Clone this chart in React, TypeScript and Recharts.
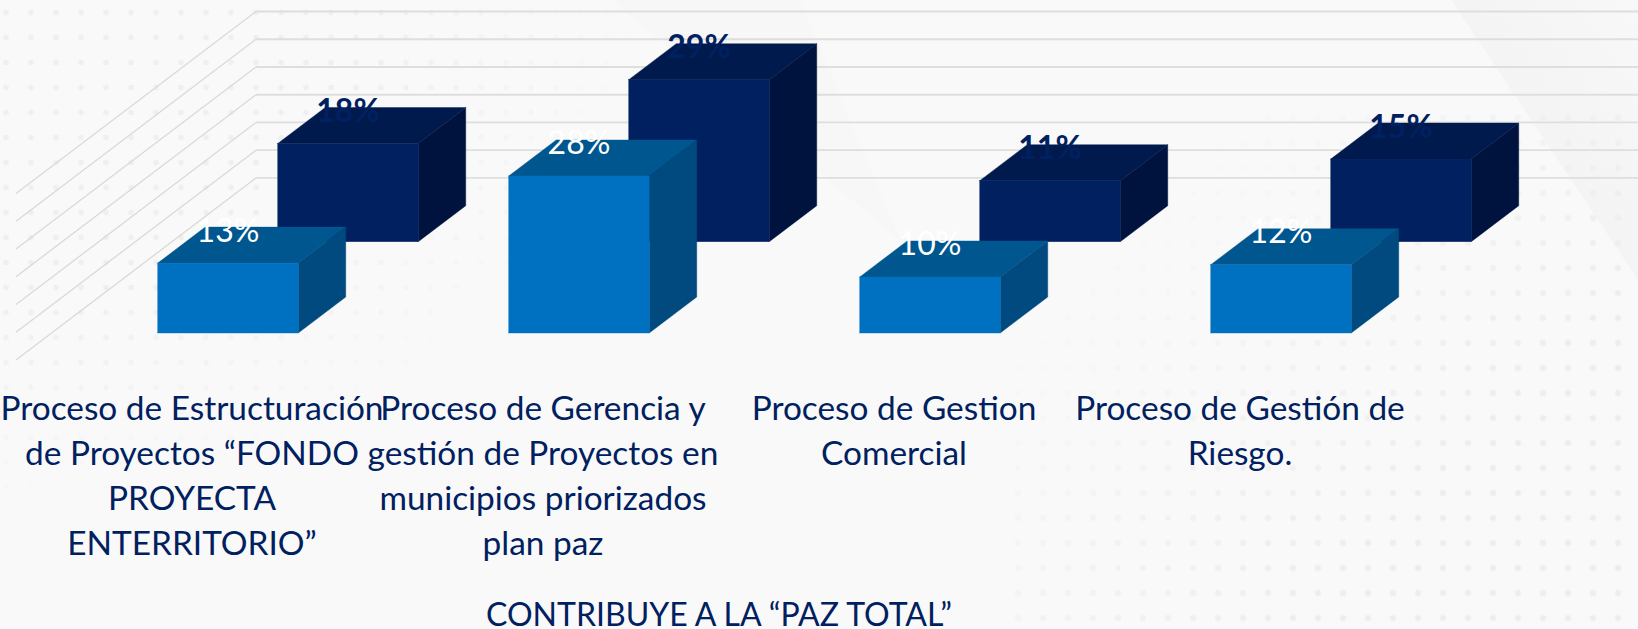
import { BarChart, Bar, XAxis, YAxis, CartesianGrid, LabelList } from 'recharts'

const categories = ['Estructuración', 'Gerencia', 'Gestion Comercial', 'Gestión de Riesgo']
const tickLines = [
  ['Proceso de Estructuración', 'de Proyectos “FONDO', 'PROYECTA', 'ENTERRITORIO”'],
  ['Proceso de Gerencia y', 'gestión de Proyectos en', 'municipios priorizados', 'plan paz'],
  ['Proceso de Gestion', 'Comercial'],
  ['Proceso de Gestión de', 'Riesgo.'],
]
const frontValues = [12.6, 28.3, 10.1, 12.3]
const backValues = [17.7, 29.2, 11, 14.9]
const gridValues = [5, 10, 15, 20, 25, 30, 35]
const caption = 'CONTRIBUYE A LA “PAZ TOTAL”'

const chartData = categories.map((name, i) => ({
  name,
  front: frontValues[i],
  back: backValues[i],
}))

const FONT = 'Lato, Carlito, sans-serif'
const NAVY = '#002060'

// projection of each row away from the back wall, plus the box depth
const DEPTH_X = 47.5
const DEPTH_Y = 36
const FRONT_ROW = { dx: 36.25, dy: 127.3, face: '#0070C0', top: '#00578F', side: '#004A7F' }
const BACK_ROW = { dx: 156.25, dy: 36, face: '#002060', top: '#001A4D', side: '#00133F' }

type Row = typeof FRONT_ROW

const makeBox = (row: Row) => (props: any) => {
  const x = props.x + row.dx
  const y = props.y + row.dy
  const { width: w, height: h } = props
  return (
    <g>
      <polygon
        points={`${x},${y} ${x + DEPTH_X},${y - DEPTH_Y} ${x + w + DEPTH_X},${y - DEPTH_Y} ${x + w},${y}`}
        fill={row.top}
        stroke={row.top}
        strokeWidth={0.4}
      />
      <polygon
        points={`${x + w},${y} ${x + w + DEPTH_X},${y - DEPTH_Y} ${x + w + DEPTH_X},${y + h - DEPTH_Y} ${x + w},${y + h}`}
        fill={row.side}
        stroke={row.side}
        strokeWidth={0.4}
      />
      <rect x={x} y={y} width={w} height={h} fill={row.face} stroke={row.face} strokeWidth={0.4} />
    </g>
  )
}

const makeValueLabel = (row: Row, color: string, weight: number) => (props: any) => {
  const { x, y, width, value } = props
  return (
    <text
      x={x + row.dx + width / 2}
      y={y + row.dy - 21.5}
      textAnchor="middle"
      fill={color}
      fontFamily={FONT}
      fontWeight={weight}
      fontSize={32}
    >
      {Math.round(value)}%
    </text>
  )
}

const CategoryTick = (props: any) => {
  const lines = tickLines[props.index] ?? []
  // last label sits a little left of its band in the original
  const x = props.index === 3 ? props.x - 5 : props.x
  return (
    <text x={x} y={props.y + 206} textAnchor="middle" fill={NAVY} fontFamily={FONT} fontSize={33.4}>
      {lines.map((line, i) => (
        <tspan key={line} x={x} dy={i === 0 ? 0 : 45.2}>
          {line}
        </tspan>
      ))}
    </text>
  )
}

// wall line: runs flat along the back, then folds down the left side
const WallLine = (props: any) => (
  <g key={props.y1}>
    <path d={`M16,${props.y1 + 182} L256,${props.y1}`} fill="none" stroke="#d9d9d9" strokeWidth={1.3} />
    <path d={`M256,${props.y1} L1638,${props.y1}`} fill="none" stroke="#dedede" strokeWidth={1.8} />
  </g>
)

export default function App() {
  return (
    <div
      style={{
        position: 'absolute',
        left: 0,
        top: 0,
        width: 1638,
        height: 629,
        overflow: 'hidden',
        background: '#f9f9f9',
      }}
    >
      <div
        style={{
          position: 'absolute',
          inset: 0,
          background: 'linear-gradient(56deg, #f4f4f4 1555px, #f8f8f8 1710px)',
          clipPath: 'polygon(1451px 0, 1638px 0, 1638px 280px)',
        }}
      />
      <div
        style={{
          position: 'absolute',
          inset: 0,
          background: '#f5f5f5',
          clipPath: 'polygon(612px 0, 800px 0, 900px 240px)',
          opacity: 0.5,
        }}
      />
      <div
        style={{
          position: 'absolute',
          left: 0,
          top: 0,
          width: 640,
          height: 510,
          backgroundImage: 'radial-gradient(circle, #efefef 2.5px, transparent 3.2px)',
          backgroundSize: '25px 25px',
          backgroundPosition: '-6.5px 0px',
          WebkitMaskImage: 'radial-gradient(ellipse 640px 510px at 0 0, #000 60%, transparent 100%)',
          maskImage: 'radial-gradient(ellipse 640px 510px at 0 0, #000 60%, transparent 100%)',
        }}
      />
      <div
        style={{
          position: 'absolute',
          left: 1000,
          top: 100,
          width: 638,
          height: 529,
          backgroundImage: 'radial-gradient(circle, #ededed 2.8px, transparent 3.4px)',
          backgroundSize: '25px 25px',
          backgroundPosition: '5.5px 5.5px',
          WebkitMaskImage: 'linear-gradient(135deg, transparent 20%, #000 70%)',
          maskImage: 'linear-gradient(135deg, transparent 20%, #000 70%)',
        }}
      />
      <div style={{ position: 'absolute', left: 0, top: 0 }}>
        <BarChart
          width={1638}
          height={629}
          data={chartData}
          margin={{ top: 11.5, bottom: 422.3, left: 16.5, right: 217.5 }}
          barSize={140.5}
          barGap={-140.5}
          barCategoryGap={0}
        >
          <CartesianGrid vertical={false} horizontal={WallLine} horizontalValues={gridValues} />
          <XAxis dataKey="name" height={1} axisLine={false} tickLine={false} interval={0} tick={<CategoryTick />} />
          <YAxis hide domain={[0, 35]} ticks={gridValues} />
          <Bar dataKey="back" isAnimationActive={false} shape={makeBox(BACK_ROW)}>
            <LabelList dataKey="back" content={makeValueLabel(BACK_ROW, NAVY, 700)} />
          </Bar>
          <Bar dataKey="front" isAnimationActive={false} shape={makeBox(FRONT_ROW)}>
            <LabelList dataKey="front" content={makeValueLabel(FRONT_ROW, '#ffffff', 400)} />
          </Bar>
        </BarChart>
      </div>
      <div
        style={{
          position: 'absolute',
          left: 319,
          top: 601,
          width: 800,
          textAlign: 'center',
          color: NAVY,
          fontFamily: FONT,
          fontSize: 32,
          lineHeight: '26px',
          whiteSpace: 'nowrap',
        }}
      >
        {caption}
      </div>
    </div>
  )
}
